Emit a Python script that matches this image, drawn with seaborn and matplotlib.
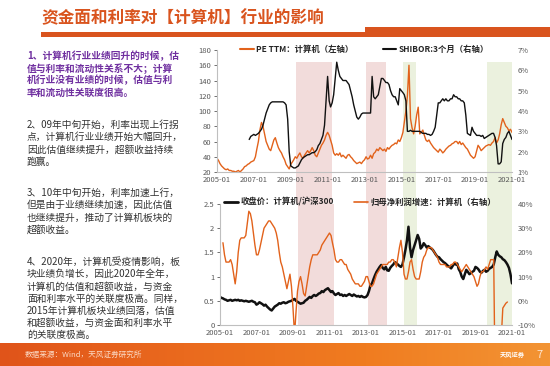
import numpy as np
import pandas as pd
import matplotlib
matplotlib.use("Agg")
import matplotlib.pyplot as plt
import matplotlib.dates as mdates
from matplotlib.lines import Line2D
from matplotlib.patches import Rectangle
from matplotlib.colors import LinearSegmentedColormap
from matplotlib.ticker import FuncFormatter, FixedLocator
import seaborn as sns

sns.set_style("white")
plt.rcParams['font.family'] = ['Noto Sans CJK SC', 'DejaVu Sans']

# ---------------- data (monthly, 2005-01 .. 2021-01) ----------------
months = pd.date_range("2005-01-01", "2021-01-01", freq="MS")
tick_years = [2005, 2007, 2009, 2011, 2013, 2015, 2017, 2019, 2021]

pe_ttm = [
    38, 35, 31, 28, 26, 24, 23, 24, 22, 22, 21, 21,
    20, 21, 22, 20, 22, 24, 27, 28, 30, 31, 33, 34,
    35, 40, 50, 60, 75, 85, 80, 70, 60, 55, 50, 48,
    55, 62, 65, 58, 52, 48, 45, 40, 36, 30, 27, 24,
    30, 33, 36, 40, 38, 42, 45, 40, 38, 42, 45, 48,
    45, 48, 52, 48, 42, 40, 45, 50, 55, 58, 62, 68,
    72, 68, 62, 55, 45, 42, 44, 42, 45, 40, 42, 40,
    38, 42, 43, 40, 38, 35, 33, 31, 32, 33, 31, 34,
    36, 40, 37, 38, 42, 38, 44, 46, 50, 48, 52, 50,
    48, 50, 47, 52, 50, 53, 55, 56, 58, 57, 62, 60,
    65, 72, 85, 100, 120, 160, 90, 78, 70, 80, 95, 105,
    70, 72, 75, 68, 62, 60, 62, 58, 55, 52, 50, 48,
    46, 50, 48, 45, 47, 50, 52, 54, 55, 57, 58, 60,
    60, 57, 60, 56, 58, 55, 52, 50, 46, 42, 40, 38,
    40, 48, 55, 52, 48, 50, 52, 54, 55, 56, 55, 58,
    60, 65, 58, 62, 70, 82, 90, 85, 80, 78, 74, 76,
    72,
]

shibor_3m = [
    np.nan] * 12 + [
    np.nan, np.nan, np.nan, np.nan, np.nan, np.nan, np.nan, np.nan, np.nan, 2.6, 2.75, 2.8,
    2.85, 2.8, 2.85, 2.9, 3.0, 3.1, 3.3, 3.6, 3.9, 4.1, 4.3, 4.4,
    4.45, 4.45, 4.45, 4.45, 4.45, 4.45, 4.45, 4.45, 4.4, 4.3, 3.6, 2.0,
    1.3, 1.25, 1.2, 1.2, 1.25, 1.3, 1.45, 1.6, 1.7, 1.75, 1.8, 1.85,
    1.85, 1.9, 1.95, 1.95, 2.0, 2.1, 2.3, 2.4, 2.6, 2.8, 3.3, 4.5,
    5.7, 4.5, 4.2, 4.4, 4.8, 5.6, 6.4, 6.0, 5.7, 5.6, 5.5, 5.5,
    5.5, 5.4, 5.3, 5.0, 4.7, 4.3, 4.0, 3.7, 3.6, 3.7, 3.85, 3.9,
    3.9, 3.9, 3.9, 3.9, 3.9, 5.7, 4.7, 4.6, 4.7, 4.8, 5.2, 5.6,
    5.6, 5.5, 5.4, 5.4, 5.3, 5.0, 4.8, 4.7, 4.7, 4.5, 4.3, 5.1,
    5.0, 4.9, 4.8, 4.5, 3.0, 3.0, 3.05, 3.0, 3.0, 3.0, 3.0, 3.0,
    3.0, 2.95, 2.9, 2.9, 2.9, 2.85, 2.85, 2.8, 2.85, 3.0, 3.2, 3.8,
    4.4, 4.4, 4.5, 4.6, 4.5, 4.6, 4.5, 4.5, 4.6, 4.6, 4.8, 4.7,
    4.7, 4.6, 4.6, 4.5, 4.5, 4.4, 3.8, 2.9, 2.85, 2.8, 3.2, 3.0,
    2.9, 2.8, 2.8, 2.8, 2.75, 2.8, 2.65, 2.7, 2.75, 2.8, 2.85, 2.9,
    2.9, 2.7, 2.3, 1.4, 1.4, 1.5, 2.4, 2.6, 2.7, 2.9, 3.0, 2.8,
    2.6,
]

ratio_hs300 = [
    0.58, 0.56, 0.55, 0.53, 0.52, 0.50, 0.51, 0.52, 0.50, 0.51, 0.52, 0.51,
    0.52, 0.50, 0.51, 0.50, 0.49, 0.50, 0.49, 0.48, 0.49, 0.50, 0.48, 0.47,
    0.42, 0.44, 0.47, 0.45, 0.43, 0.40, 0.42, 0.38, 0.35, 0.32, 0.30, 0.34,
    0.38, 0.40, 0.42, 0.45, 0.44, 0.46, 0.47, 0.45, 0.46, 0.48, 0.49, 0.50,
    0.52, 0.54, 0.50, 0.48, 0.46, 0.44, 0.45, 0.46, 0.50, 0.52, 0.55, 0.58,
    0.56, 0.60, 0.62, 0.60, 0.62, 0.65, 0.66, 0.70, 0.68, 0.72, 0.74, 0.76,
    0.72, 0.68, 0.70, 0.65, 0.62, 0.64, 0.66, 0.62, 0.63, 0.60, 0.62, 0.60,
    0.62, 0.64, 0.62, 0.60, 0.63, 0.61, 0.59, 0.60, 0.58, 0.60, 0.58, 0.57,
    0.58, 0.62, 0.70, 0.82, 0.86, 0.95, 1.03, 1.10, 1.15, 1.20, 1.24, 1.18,
    1.15, 1.20, 1.13, 1.12, 1.18, 1.22, 1.25, 1.30, 1.28, 1.25, 1.22, 1.20,
    1.25, 1.40, 1.55, 1.75, 2.03, 1.60, 1.40, 1.55, 1.65, 1.75, 1.86, 1.78,
    1.58, 1.62, 1.69, 1.65, 1.60, 1.63, 1.60, 1.58, 1.55, 1.50, 1.45, 1.41,
    1.40, 1.36, 1.33, 1.30, 1.28, 1.25, 1.22, 1.20, 1.17, 1.22, 1.27, 1.25,
    1.27, 1.15, 1.10, 1.00, 0.95, 1.05, 1.14, 1.10, 1.05, 1.07, 1.10, 1.12,
    1.20, 1.18, 1.15, 1.10, 1.08, 1.12, 1.14, 1.10, 1.12, 1.16, 1.18, 1.20,
    1.25, 1.40, 1.52, 1.45, 1.42, 1.40, 1.36, 1.34, 1.30, 1.25, 1.18, 1.05,
    0.86,
]

# net profit growth (%); broken line in 2020
profit_growth = [
    np.nan, np.nan, 24, 19, 16, 16, 16, 17, 15, 11, 7, 12,
    20, 25, 26, 26, 26, 27, 32, 37, 36, 33, 28, 23,
    19, 19, 21, 24, 27, 30, 31, 32, 33, 33, 32, 31,
    30, 28, 25, 20, 16, 14, 11, 8, 5, 8, 11, 6,
    -3, -14, -5, 4, 8, 10, 7, 3, 2, 6, 10, 14,
    17, 19, 19, 19, 19, 20, 21, 23, 24, 25, 26, 27,
    28, 27, 24, 21, 17, 16, 16, 17, 17, 16, 15, 15,
    13, 12, 11, 9, 8, 7, 7, 7, 6, 6, 7, 8,
    10, 10, 8, 6, 6, 7, 9, 11, 12, 13, 14, 15,
    15, 15, 15, 16, 16, 17, 17, 16, 14, 18, 22, 25,
    20, 11, 9, 9, 12, 16, 17, 13, 10, 9, 9, 9,
    12, 16, 18, 19, 21, 22, 22, 22, 21, 20, 19, 18,
    16, 15, 15, 15, 15, 14, 14, 14, 15, 15, 16, 16,
    15, 14, 13, 12, 13, 14, 15, 14, 13, 12, 11, 10,
    8, 6, 7, 10, 12, 12, 13, 14, 13, 15, 17, 17,
    17, -40, np.nan, np.nan, np.nan, -15, -3, -2, -1, -0.5, np.nan, np.nan,
    np.nan,
]

red_bands = [("2009-04-10", "2011-03-25"), ("2013-02-01", "2014-03-01")]
green_bands = [("2015-02-01", "2015-10-15"), ("2019-08-20", "2021-01-01")]

title = "资金面和利率对【计算机】行业的影响"
para1 = ["1、计算机行业业绩回升的时候，估", "值与利率和流动性关系不大；计算",
         "机行业没有业绩的时候，估值与利", "率和流动性关联度很高。"]
para2 = ["2、09年中旬开始，利率出现上行拐", "点，计算机行业业绩开始大幅回升，",
         "因此估值继续提升，超额收益持续", "跑赢。"]
para3 = ["3、10年中旬开始，利率加速上行，", "但是由于业绩继续加速，因此估值",
         "也继续提升，推动了计算机板块的", "超额收益。"]
para4 = ["4、2020年，计算机受疫情影响，板", "块业绩负增长，因此2020年全年，",
         "计算机的估值和超额收益，与资金", "面和利率水平的关联度极高。同样，",
         "2015年计算机板块业绩回落，估值", "和超额收益，与资金面和利率水平",
         "的关联度极高。"]

df = pd.DataFrame({"date": months, "pe": pe_ttm, "shibor": shibor_3m,
                   "ratio": ratio_hs300, "growth": profit_growth})
df["seg"] = (df["date"] >= "2020-03-01").astype(int)

ORANGE = "#E2621B"
BLACK = "#111111"
GRID_C = "#BFBFBF"
TICK_C = "#595959"
W, H = 550, 366

fig = plt.figure(figsize=(5.5, 3.66), dpi=100)

# ---------------- title ----------------
fig.text(41 / W, 1 - 18 / H, title, fontsize=12, weight="bold", color="#D9541E", va="center")
fig.patches.append(Rectangle((41 / W, 1 - 37 / H), 1 - 41 / W, 5 / H, transform=fig.transFigure,
                             color="#D9541E", lw=0))
fig.patches.append(Rectangle((365 / W, 1 - 37 / H), 1 - 365 / W, 10 / H, transform=fig.transFigure,
                             color="#D9541E", lw=0))

# ---------------- left text ----------------
def put_para(lines, y0, color, weight):
    for i, ln in enumerate(lines):
        fig.text(27 / W, 1 - (y0 + 12.2 * i) / H, ln, fontsize=7.0, color=color,
                 weight=weight, va="center")

put_para(para1, 56, "#7030A0", "bold")
put_para(para2, 125, "#333333", "normal")
put_para(para3, 193, "#333333", "normal")
put_para(para4, 262, "#333333", "normal")

# ---------------- axes ----------------
ax1 = fig.add_axes([217 / W, 1 - 172 / H, (512 - 217) / W, 122 / H])
ax2 = fig.add_axes([220 / W, 1 - 325 / H, (512 - 220) / W, 121 / H])
x0, x1 = pd.Timestamp("2005-01-01"), pd.Timestamp("2021-01-01")
xticks = [pd.Timestamp(f"{y}-01-01") for y in tick_years]

for ax in (ax1, ax2):
    ax.set_facecolor("none")
    for s in ("top", "right"):
        ax.spines[s].set_visible(False)
    for s in ("left", "bottom"):
        ax.spines[s].set_color(GRID_C)
        ax.spines[s].set_linewidth(0.8)

# shaded periods, continuous across both panels
ext = (204 - 172) / 122
for a, b in red_bands:
    ax1.axvspan(pd.Timestamp(a), pd.Timestamp(b), ymin=-ext, ymax=(172 - 62) / 122,
                color="#F2DCDB", lw=0, zorder=0, clip_on=False)
    ax2.axvspan(pd.Timestamp(a), pd.Timestamp(b), color="#F2DCDB", lw=0, zorder=0)
for a, b in green_bands:
    ax1.axvspan(pd.Timestamp(a), pd.Timestamp(b), ymin=-ext, ymax=(172 - 62) / 122,
                color="#EBF1DE", lw=0, zorder=0, clip_on=False)
    ax2.axvspan(pd.Timestamp(a), pd.Timestamp(b), color="#EBF1DE", lw=0, zorder=0)

# top chart
sns.lineplot(data=df, x="date", y="pe", ax=ax1, color=ORANGE, lw=1.0)
ax1.set_ylim(20, 180)
ax1.set_yticks(range(20, 181, 20))
ax1r = ax1.twinx()
ax1r.set_facecolor("none")
sns.lineplot(data=df.dropna(subset=["shibor"]), x="date", y="shibor", ax=ax1r, color=BLACK, lw=1.0)
ax1r.set_ylim(1, 7)
ax1r.yaxis.set_major_locator(FixedLocator(range(1, 8)))
ax1r.yaxis.set_major_formatter(FuncFormatter(lambda v, p: f"{v:.0f}%"))

# bottom chart
sns.lineplot(data=df, x="date", y="ratio", ax=ax2, color=BLACK, lw=1.8)
ax2.set_ylim(0, 2.5)
ax2.set_yticks([0, 0.5, 1, 1.5, 2, 2.5])
ax2.yaxis.set_major_formatter(FuncFormatter(lambda v, p: f"{v:g}"))
ax2r = ax2.twinx()
ax2r.set_facecolor("none")
sns.lineplot(data=df.dropna(subset=["growth"]), x="date", y="growth", units="seg",
             estimator=None, ax=ax2r, color=ORANGE, lw=1.0)
ax2r.set_ylim(-10, 40)
ax2r.yaxis.set_major_locator(FixedLocator(range(-10, 41, 10)))
ax2r.yaxis.set_major_formatter(FuncFormatter(lambda v, p: f"{v:.0f}%"))

for ax in (ax1, ax2):
    ax.set_xlim(x0, x1)
    ax.set_xticks(xticks)
    ax.xaxis.set_major_formatter(mdates.DateFormatter("%Y-%m"))
    ax.tick_params(axis="x", labelsize=5.5, colors=TICK_C, length=0, pad=3)
    ax.tick_params(axis="y", labelsize=5.5, colors=TICK_C, length=2, width=0.6, pad=2)
    ax.set_xlabel("")
    ax.set_ylabel("")

for ax in (ax1r, ax2r):
    ax.set_xlim(x0, x1)
    for s in ax.spines.values():
        s.set_visible(False)
    ax.tick_params(axis="y", labelsize=5.5, colors=TICK_C, length=0, pad=4)
    ax.set_xlabel("")
    ax.set_ylabel("")

leg_font = dict(size=6, weight="bold")
ax1r.legend([Line2D([], [], color=ORANGE, lw=1.5), Line2D([], [], color=BLACK, lw=1.5)],
            ["PE TTM：计算机（左轴）", "SHIBOR:3个月（右轴）"], loc="center",
            bbox_to_anchor=(0.5, 1.008), ncol=2, frameon=False, prop=leg_font,
            handlelength=1.6, handletextpad=0.3, columnspacing=3.5)
ax2r.legend([Line2D([], [], color=BLACK, lw=2), Line2D([], [], color=ORANGE, lw=1.2)],
            ["收盘价：计算机/沪深300", "归母净利润增速：计算机（右轴）"], loc="center",
            bbox_to_anchor=(0.48, 1.017), ncol=2, frameon=False, prop=leg_font,
            handlelength=1.6, handletextpad=0.3, columnspacing=2.5)

# ---------------- footer ----------------
fax = fig.add_axes([0, 0, 1, 23 / H])
cmap = LinearSegmentedColormap.from_list("foot", ["#E0541A", "#EA6A1E", "#F07C20", "#F39434"])
fax.imshow(np.linspace(0, 1, 256)[None, :], aspect="auto", cmap=cmap, extent=(0, 1, 0, 1))
fax.set_xlim(0, 1)
fax.set_ylim(0, 1)
fax.axis("off")
fax.text(25 / W, 0.5, "数据来源：Wind，天风证券研究所", fontsize=5.5, color="#FBD9C4", va="center")
fax.text(500 / W, 0.52, "天风证券", fontsize=4.5, color="white", va="center", weight="bold")
fax.text(536 / W, 0.5, "7", fontsize=8, color="#FDE6D4", va="center")

fig.savefig("out.png", dpi=100)
